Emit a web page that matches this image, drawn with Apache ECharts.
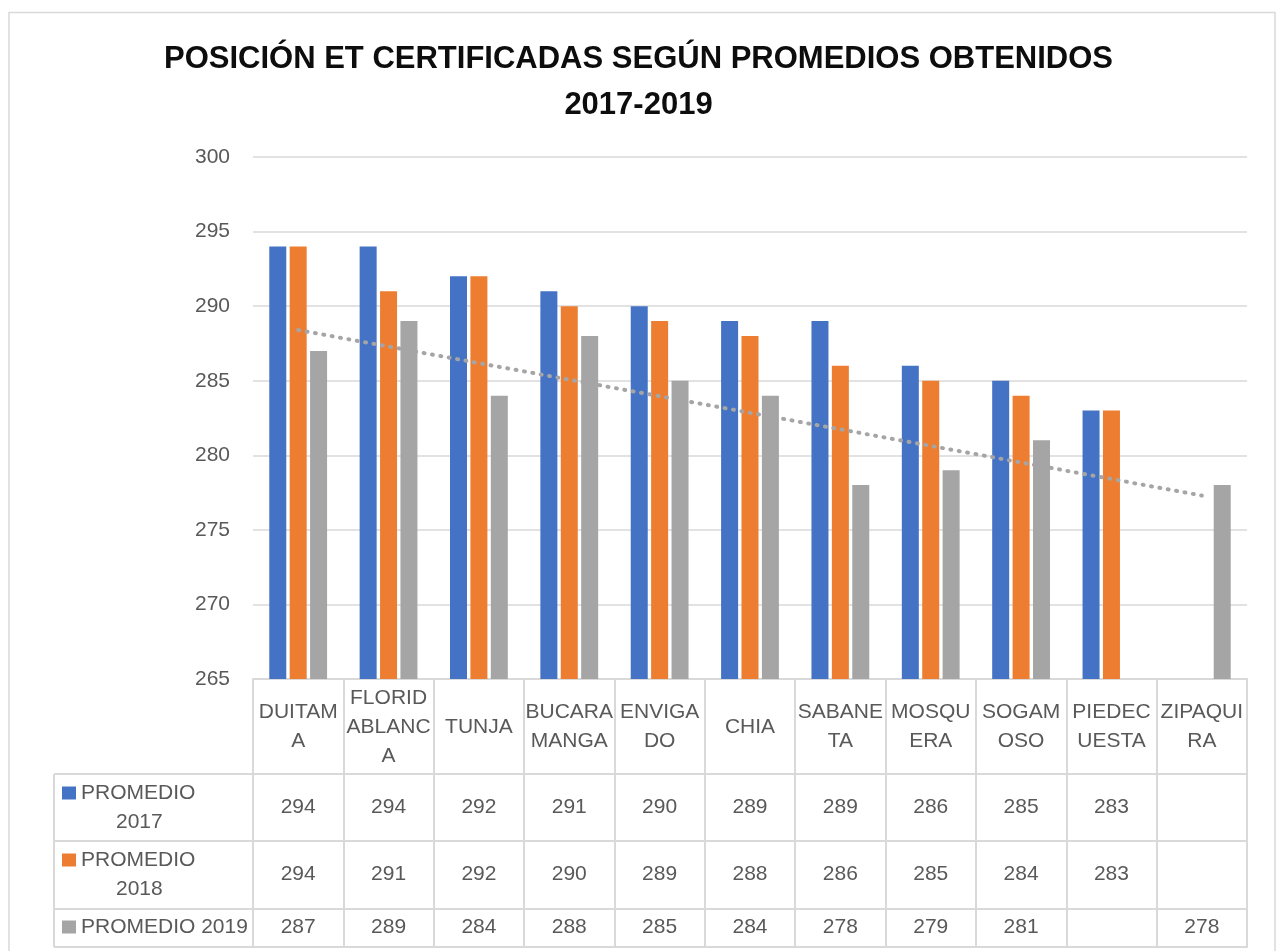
<!DOCTYPE html>
<html>
<head>
<meta charset="utf-8">
<script src="https://cdn.jsdelivr.net/npm/echarts@6/dist/echarts.min.js"></script>
<style>
  html, body { margin: 0; padding: 0; background: #fff; }
  #main { width: 1277px; height: 951px; }
</style>
</head>
<body>
<div id="main"></div>
<script>
// datos
var ciudades = ['DUITAMA', 'FLORIDABLANCA', 'TUNJA', 'BUCARAMANGA', 'ENVIGADO', 'CHIA',
  'SABANETA', 'MOSQUERA', 'SOGAMOSO', 'PIEDECUESTA', 'ZIPAQUIRA'];
// como se parten las etiquetas en la tabla
var etiquetas = ['DUITAM\nA', 'FLORID\nABLANC\nA', 'TUNJA', 'BUCARA\nMANGA', 'ENVIGA\nDO', 'CHIA',
  'SABANE\nTA', 'MOSQU\nERA', 'SOGAM\nOSO', 'PIEDEC\nUESTA', 'ZIPAQUI\nRA'];
var prom2017 = [294, 294, 292, 291, 290, 289, 289, 286, 285, 283, null];
var prom2018 = [294, 291, 292, 290, 289, 288, 286, 285, 284, 283, null];
var prom2019 = [287, 289, 284, 288, 285, 284, 278, 279, 281, null, 278];
// linea de tendencia (punteada), extremos
var tendencia = [288.4, null, null, null, null, null, null, null, null, null, 277.3];
var yTicks = [265, 270, 275, 280, 285, 290, 295, 300];

var myChart = echarts.init(document.getElementById('main'));

var FONT = 'Liberation Sans';
var GRIS_TXT = '#595959';
var LINEA = '#d9d9d9';

// layout de la tabla
var gridLeft = 253, gridRight = 30, gridTop = 157, gridBottom = 272;
var baseY = 951 - gridBottom;          // 679
var filas = [95, 162, 230, 268];       // desplazamiento de cada linea horizontal
var tablaLeft = 54;

function ejeTabla(valores, offset, alto, margen) {
  return {
    type: 'category',
    gridIndex: 0,
    position: 'bottom',
    offset: offset,
    data: ciudades,
    axisLine: { show: true, lineStyle: { color: LINEA, width: 2 } },
    axisTick: { show: alto > 0, length: alto, lineStyle: { color: LINEA, width: 2 } },
    axisLabel: {
      show: valores != null,
      interval: 0,
      margin: margen,
      verticalAlign: 'middle',
      fontFamily: FONT,
      fontSize: 21,
      color: GRIS_TXT,
      formatter: function (v, i) {
        var x = valores ? valores[i] : null;
        return x == null ? '' : String(x);
      }
    },
    splitLine: { show: false }
  };
}

function leyenda(nombre, centroY, dosLineas) {
  var l = {
    data: [nombre],
    left: 62,
    orient: 'horizontal',
    padding: 0,
    itemWidth: 14,
    itemHeight: 13,
    icon: 'rect',
    selectedMode: false,
    textStyle: { fontFamily: FONT, fontSize: 21, color: GRIS_TXT, lineHeight: 29 }
  };
  if (dosLineas) {
    // linea vacia arriba para que el cuadro quede junto a la primera linea
    l.top = centroY - 43.5;
    l.formatter = function (n) { return ' \n' + n.replace(' ', '\n      '); };
  } else {
    l.top = centroY - 14.5;
  }
  return l;
}

// lineas de la columna izquierda de la tabla
var lineas = [];
filas.forEach(function (o) {
  lineas.push({
    type: 'line',
    shape: { x1: tablaLeft, y1: baseY + o, x2: gridLeft, y2: baseY + o },
    style: { stroke: LINEA, lineWidth: 2 }
  });
});
lineas.push({
  type: 'line',
  shape: { x1: tablaLeft, y1: baseY + filas[0], x2: tablaLeft, y2: baseY + filas[3] },
  style: { stroke: LINEA, lineWidth: 2 }
});
lineas.push({
  type: 'rect',
  shape: { x: 9, y: 12.5, width: 1266, height: 960 },
  style: { fill: 'none', stroke: LINEA, lineWidth: 1.5 },
  silent: true
});

myChart.setOption({
  animation: false,
  title: {
    text: 'POSICIÓN ET CERTIFICADAS SEGÚN PROMEDIOS OBTENIDOS\n2017-2019',
    left: 'center',
    top: 31,
    textStyle: { fontFamily: FONT, fontSize: 31, fontWeight: 'bold', color: '#0d0d0d', lineHeight: 46 }
  },
  legend: [
    leyenda('PROMEDIO 2017', 793, true),
    leyenda('PROMEDIO 2018', 860, true),
    leyenda('PROMEDIO 2019', 927, false)
  ],
  grid: { left: gridLeft, right: gridRight, top: gridTop, bottom: gridBottom },
  xAxis: [
    {
      type: 'category',
      data: ciudades,
      axisLine: { show: true, lineStyle: { color: LINEA, width: 2 } },
      axisTick: { show: true, length: filas[0], lineStyle: { color: LINEA, width: 2 } },
      axisLabel: {
        interval: 0,
        margin: 48,
        verticalAlign: 'middle',
        fontFamily: FONT,
        fontSize: 21,
        lineHeight: 29,
        color: GRIS_TXT,
        formatter: function (v, i) { return etiquetas[i]; }
      }
    },
    ejeTabla(prom2017, filas[0], filas[1] - filas[0], 33),
    ejeTabla(prom2018, filas[1], filas[2] - filas[1], 33),
    ejeTabla(prom2019, filas[2], filas[3] - filas[2], 18),
    ejeTabla(null, filas[3], 0, 0)
  ],
  yAxis: {
    type: 'value',
    min: yTicks[0],
    max: yTicks[yTicks.length - 1],
    interval: 5,
    axisLine: { show: false },
    axisTick: { show: false },
    axisLabel: { fontFamily: FONT, fontSize: 21, color: GRIS_TXT, margin: 23 },
    splitLine: { lineStyle: { color: LINEA, width: 1.5 } }
  },
  series: [
    { name: 'PROMEDIO 2017', type: 'bar', data: prom2017, barWidth: 17, barGap: '20%',
      itemStyle: { color: '#4472C4' } },
    { name: 'PROMEDIO 2018', type: 'bar', data: prom2018, barWidth: 17, barGap: '20%',
      itemStyle: { color: '#ED7D31' } },
    { name: 'PROMEDIO 2019', type: 'bar', data: prom2019, barWidth: 17, barGap: '20%',
      itemStyle: { color: '#A5A5A5' } },
    { name: 'Tendencia', type: 'line', data: tendencia, connectNulls: true, symbol: 'none',
      silent: true, z: 5,
      lineStyle: { color: '#A5A5A5', width: 4, type: [1, 7.5], cap: 'round' } }
  ],
  graphic: lineas
});
</script>
</body>
</html>
